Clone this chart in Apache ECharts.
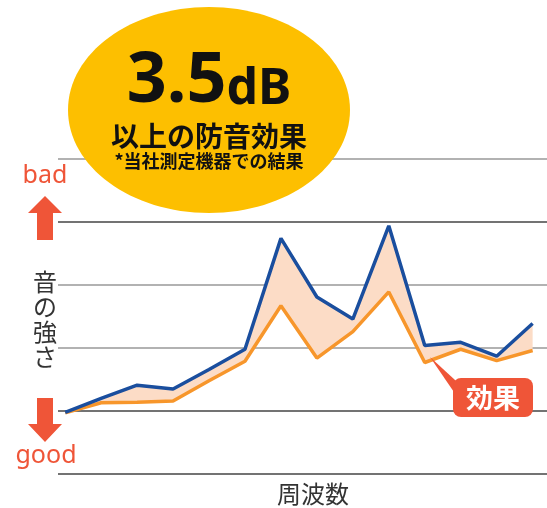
<!DOCTYPE html>
<html><head><meta charset="utf-8">
<script src="https://cdn.jsdelivr.net/npm/echarts@6/dist/echarts.min.js"></script>
<style>html,body{margin:0;padding:0;background:#fff;overflow:hidden}#c{width:547px;height:508px}</style>
</head><body><div id="c"></div>
<script>
// frequency positions (category index along the axis)
const freqIndex = [0,1,2,3,4,5,6,7,8,9,10,11,12,13];
// sound level without the product (blue)
const beforeLevel = [0.98,1.20,1.41,1.35,1.66,1.98,3.74,2.81,2.46,3.94,2.04,2.09,1.87,2.39];
// sound level with the product (orange)
const afterLevel  = [0.97,1.13,1.14,1.16,1.48,1.79,2.67,1.84,2.26,2.89,1.77,1.98,1.80,1.96];
const yTicks = [0,1,2,3,4,5];

const pairs = (arr) => arr.map((v, i) => [freqIndex[i], v]);

const RED = '#EF5538';
const chart = echarts.init(document.getElementById('c'));
chart.setOption({
  animation: false,
  grid: {left: 58, right: 0, top: 159, bottom: 34},
  xAxis: {type: 'value', min: -0.2, max: 13.4,
    axisLine: {show: false}, axisTick: {show: false}, axisLabel: {show: false}, splitLine: {show: false}},
  yAxis: {type: 'value', min: yTicks[0], max: yTicks[yTicks.length-1], interval: 1,
    axisLine: {show: false}, axisTick: {show: false}, axisLabel: {show: false},
    splitLine: {show: true, lineStyle: {width: 1.5, color: ['#444','#444','#999','#999','#444','#999']}}},
  series: [
    {type: 'custom', data: [[0, 0]], silent: true, clip: false, z: 1,
      renderItem: function (params, api) {
        const top = beforeLevel.map((v, i) => api.coord([freqIndex[i], v]));
        const bot = afterLevel.map((v, i) => api.coord([freqIndex[i], v])).reverse();
        return {type: 'polygon', shape: {points: top.concat(bot)}, style: {fill: '#FCDCC6'}};
      }},
    {type: 'line', data: pairs(afterLevel), symbol: 'none',
      lineStyle: {color: '#F7962B', width: 3.5}, z: 3},
    {type: 'line', data: pairs(beforeLevel), symbol: 'none',
      lineStyle: {color: '#1A4E9E', width: 3.5}, z: 4}
  ],
  graphic: [
    {type: 'ellipse', shape: {cx: 209, cy: 110, rx: 141, ry: 103}, style: {fill: '#FDBF00'}, z: 100},
    {type: 'text', z: 101, style: {
      x: 209, y: 117, text: '{a|3.5}{b|dB}', align: 'center', verticalAlign: 'bottom',
      rich: {a: {fontSize: 70, fontWeight: 'bold', fill: '#111', fontFamily: 'Noto Sans', verticalAlign: 'bottom'},
             b: {fontSize: 50, fontWeight: 'bold', fill: '#111', fontFamily: 'Noto Sans', verticalAlign: 'bottom', padding: [0,0,2,0]}}}},
    {type: 'text', z: 101, style: {x: 209, y: 136, text: '以上の防音効果', align: 'center', verticalAlign: 'middle',
      font: 'bold 28px "Noto Sans CJK JP"', fill: '#111'}},
    {type: 'text', z: 101, style: {x: 209, y: 161, text: '*当社測定機器での結果', align: 'center', verticalAlign: 'middle',
      font: 'bold 18px "Noto Sans CJK JP"', fill: '#111'}},
    // bad / good
    {type: 'text', z: 101, style: {x: 45, y: 176, text: 'bad', align: 'center', verticalAlign: 'middle',
      font: '25px "Noto Sans"', fill: RED}},
    {type: 'text', z: 101, style: {x: 46, y: 456, text: 'good', align: 'center', verticalAlign: 'middle',
      font: '25px "Noto Sans"', fill: RED}},
    {type: 'polygon', z: 101, shape: {points: [[45,196],[62,213],[53,213],[53,240],[37,240],[37,213],[28,213]]}, style: {fill: RED}},
    {type: 'polygon', z: 101, shape: {points: [[37,398],[53,398],[53,424],[62,424],[45,442],[28,424],[37,424]]}, style: {fill: RED}},
    {type: 'text', z: 101, style: {x: 45, y: 319, text: '音\nの\n強\nさ', align: 'center', verticalAlign: 'middle',
      font: '24px "Noto Sans CJK JP"', lineHeight: 25, fill: '#333'}},
    {type: 'text', z: 101, style: {x: 313, y: 494, text: '周波数', align: 'center', verticalAlign: 'middle',
      font: '24px "Noto Sans CJK JP"', fill: '#333'}},
    // effect badge
    {type: 'polygon', z: 101, shape: {points: [[430,357],[455,380],[458,398]]}, style: {fill: RED}},
    {type: 'rect', z: 102, shape: {x: 453, y: 378, width: 80, height: 39, r: 8}, style: {fill: RED}},
    {type: 'text', z: 103, style: {x: 493, y: 398, text: '効果', align: 'center', verticalAlign: 'middle',
      font: 'bold 27px "Noto Sans CJK JP"', fill: '#fff'}}
  ]
});
</script></body></html>
